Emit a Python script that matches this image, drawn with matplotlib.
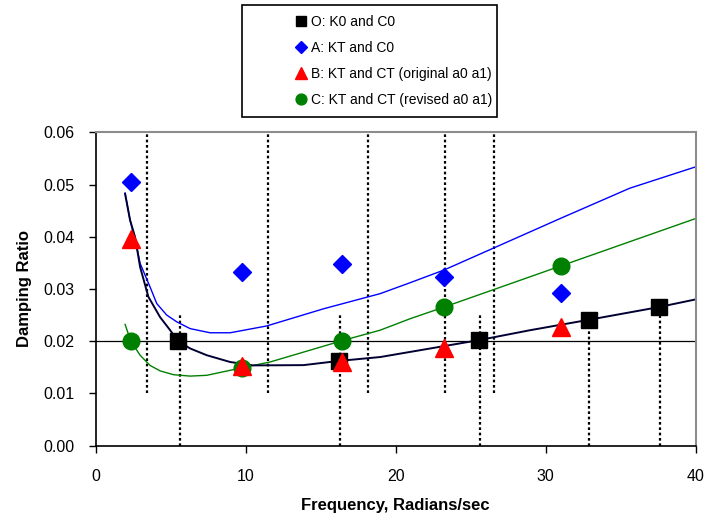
import matplotlib
matplotlib.use('Agg')
import matplotlib.pyplot as plt
from matplotlib.patches import Rectangle

plt.rcParams['font.family'] = ['Liberation Sans', 'DejaVu Sans']

## Puntos medidos
f_o = [5.52, 16.2, 25.57, 32.9, 37.55]
z_o = [0.0200, 0.0162, 0.0202, 0.0240, 0.0266]

f_a = [2.37, 9.77, 16.45, 23.23, 31.0]
z_a = [0.0505, 0.0333, 0.0347, 0.0322, 0.0292]

f_b = [2.37, 9.77, 16.45, 23.23, 31.0]
z_b = [0.0395, 0.0153, 0.0160, 0.0187, 0.0227]

f_c = [2.35, 9.77, 16.45, 23.2, 31.0]
z_c = [0.0200, 0.0149, 0.0201, 0.0265, 0.0344]

## Curvas de amortiguamiento (Rayleigh)
fo_curve = [1.97, 2.3, 2.63, 2.97, 3.52, 4.3, 4.97, 5.5, 6.3, 7.41, 8.97, 10.5,
            13.85, 16.2, 18.97, 25.57, 28.97, 32.9, 37.5, 40.0]
zo_curve = [0.0482, 0.0432, 0.0400, 0.0342, 0.0285, 0.0246, 0.0221, 0.0200,
            0.0186, 0.0173, 0.0160, 0.01535, 0.0154, 0.0162, 0.01695, 0.0202,
            0.0221, 0.0241, 0.0265, 0.0280]

fa_curve = [1.97, 2.3, 2.75, 2.97, 3.63, 4.08, 4.74, 5.41, 6.3, 7.63, 8.97, 11.4,
            15.2, 18.97, 20.97, 23.2, 26.5, 30.97, 35.6, 40.0]
za_curve = [0.0484, 0.0432, 0.0380, 0.0349, 0.0304, 0.0272, 0.0250, 0.0237,
            0.0224, 0.0216, 0.0216, 0.0229, 0.0262, 0.0291, 0.0312, 0.0336,
            0.0378, 0.0435, 0.0493, 0.0534]

fc_curve = [1.97, 2.35, 2.97, 3.63, 4.3, 5.19, 6.3, 7.41, 9.77, 11.63, 16.45,
            18.97, 20.97, 23.2, 31.0, 40.0]
zc_curve = [0.0232, 0.0200, 0.0173, 0.01535, 0.0143, 0.01357, 0.0133, 0.01345,
            0.0149, 0.0160, 0.0201, 0.0221, 0.0243, 0.0265, 0.0344, 0.0435]

## Frecuencias marcadas con lineas punteadas
f_kt = [3.44, 11.48, 18.15, 23.28, 26.57]
f_k0 = [5.6, 16.3, 25.6, 32.9, 37.6]

fig = plt.figure(figsize=(7.05, 5.19), dpi=100)
ax = fig.add_axes([0.1355, 0.1416, 0.8515, 0.6034])

dot = (0, (1.2, 1.2))
for x in f_kt:
    ax.plot([x, x], [0.01, 0.06], color='black', lw=1.6, ls=dot, zorder=1)
for x in f_k0:
    ax.plot([x, x], [0.0, 0.025], color='black', lw=1.6, ls=dot, zorder=1)

ax.axhline(0.02, color='black', lw=0.9, zorder=1)

ax.plot(fa_curve, za_curve, color='#0000FF', lw=1.0, zorder=2)
ax.plot(fc_curve, zc_curve, color='#008000', lw=1.0, zorder=2)
ax.plot(fo_curve, zo_curve, color='#000033', lw=1.4, zorder=2)

l_o, = ax.plot(f_o, z_o, 's', color='black', ms=11.5, ls='none', zorder=3)
l_a, = ax.plot(f_a, z_a, 'D', color='#0000FF', ms=9.5, ls='none', zorder=3)
l_b, = ax.plot(f_b, z_b, '^', color='#FF0000', ms=12.5, ls='none', zorder=4)
l_c, = ax.plot(f_c, z_c, 'o', color='#008000', ms=12, ls='none', zorder=3)

ax.set_xlim(0, 40)
ax.set_ylim(0, 0.06)
ax.set_xticks([0, 10, 20, 30, 40])
ax.set_yticks([0.0, 0.01, 0.02, 0.03, 0.04, 0.05, 0.06])
ax.set_yticklabels(['%.2f' % v for v in ax.get_yticks()])
ax.tick_params(direction='out', length=5, width=1, labelsize=11.5, pad=10)
ax.tick_params(axis='x', pad=12)

for s in ['top', 'right']:
    ax.spines[s].set_color('#8c8c8c')
    ax.spines[s].set_linewidth(1.5)
for s in ['left', 'bottom']:
    ax.spines[s].set_color('black')
    ax.spines[s].set_linewidth(1.2)

ax.set_xlabel('Frequency, Radians/sec', fontsize=12, fontweight='bold', labelpad=10)
ax.set_ylabel('Damping Ratio', fontsize=12, fontweight='bold', labelpad=8)

## Leyenda en caja aparte
fig.patches.append(Rectangle((242/705, 1 - 117/519), 255/705, 112/519,
                             transform=fig.transFigure, fill=False,
                             edgecolor='black', lw=1.2))
leg = fig.legend([l_o, l_a, l_b, l_c],
                 ['O: K0 and C0', 'A: KT and C0',
                  'B: KT and CT (original a0 a1)', 'C: KT and CT (revised a0 a1)'],
                 loc='upper left', bbox_to_anchor=(285/705, 1 - 4/519),
                 frameon=False, fontsize=10, handlelength=0.7,
                 handletextpad=0.35, labelspacing=0.85, markerscale=0.65,
                 borderpad=0.3)

plt.savefig('out.png', dpi=100)
